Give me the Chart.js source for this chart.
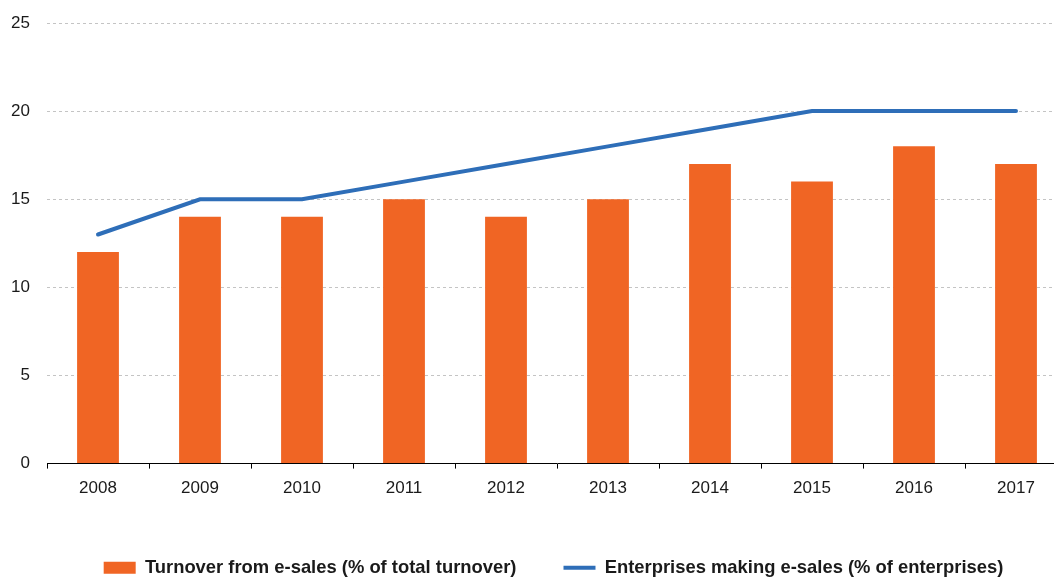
<!DOCTYPE html>
<html>
<head>
<meta charset="utf-8">
<script src="https://cdn.jsdelivr.net/npm/chart.js@4"></script>
<style>
  html, body { margin: 0; padding: 0; background: #fff; overflow: hidden; }
  #wrap { width: 1102px; height: 577px; }
</style>
</head>
<body>
<div id="wrap"><canvas id="myChart" width="1102" height="577"></canvas></div>
<script>
	// years on the x axis
	const years = ['2008', '2009', '2010', '2011', '2012', '2013', '2014', '2015', '2016', '2017'];
	// % of total turnover (bars)
	const turnover = [12, 14, 14, 15, 14, 15, 17, 16, 18, 17];
	// % of enterprises (line)
	const enterprises = [13, 15, 15, 16, 17, 18, 19, 20, 20, 20];
	const yTicks = [0, 5, 10, 15, 20, 25];

	const FONT = "'Liberation Sans', Arial, sans-serif";

	// push the legend a bit to the right, it is centred on the whole figure
	const legendShift = {
		id: 'legendShift',
		afterLayout(chart) {
			chart.legend.left += 15;
			chart.legend.right += 15;
		}
	};

	const ctx = document.querySelector('#myChart');
	const chart = new Chart(ctx, {
		type: 'bar',
		data: {
			labels: years,
			datasets: [
				{
					label: 'Turnover from e-sales (% of total turnover)',
					data: turnover,
					backgroundColor: '#F06524',
					categoryPercentage: 1,
					barPercentage: 0.41,
					pointStyle: 'rect'
				},
				{
					type: 'line',
					label: 'Enterprises making e-sales (% of enterprises)',
					data: enterprises,
					borderColor: '#2E6EB8',
					backgroundColor: '#2E6EB8',
					borderWidth: 4,
					borderCapStyle: 'round',
					pointRadius: 0,
					tension: 0,
					pointStyle: 'line'
				}
			]
		},
		plugins: [legendShift],
		options: {
			responsive: false,
			animation: false,
			layout: { padding: { left: 10, right: 35, top: 23, bottom: -10 } },
			scales: {
				x: {
					offset: true,
					grid: {
						display: true,
						offset: true,
						drawOnChartArea: false,
						drawTicks: true,
						tickLength: 5,
						color: '#000'
					},
					border: { display: true, color: '#000', width: 1 },
					ticks: {
						padding: 10,
						color: '#1a1a1a',
						font: { family: FONT, size: 17 }
					},
					afterFit: (scale) => { scale.height = 48; }
				},
				y: {
					min: 0,
					max: 25,
					afterBuildTicks: (scale) => { scale.ticks = yTicks.map(v => ({ value: v })); },
					afterFit: (scale) => {
						scale.width = 37;
						scale.paddingTop = 0;
						scale.paddingBottom = 0;
					},
					grid: {
						drawTicks: false,
						color: (c) => c.tick && c.tick.value === 0 ? 'rgba(0,0,0,0)' : '#c4c4c4',
						lineWidth: 1
					},
					border: { display: false, dash: [3, 3] },
					ticks: {
						padding: 17,
						color: '#1a1a1a',
						font: { family: FONT, size: 17 }
					}
				}
			},
			plugins: {
				tooltip: { enabled: false },
				legend: {
					position: 'bottom',
					labels: {
						usePointStyle: true,
						pointStyleWidth: 32,
						boxHeight: 12,
						padding: 47,
						color: '#1a1a1a',
						font: { family: FONT, size: 18.4, weight: 'bold' }
					}
				}
			}
		}
	});
</script>
</body>
</html>
